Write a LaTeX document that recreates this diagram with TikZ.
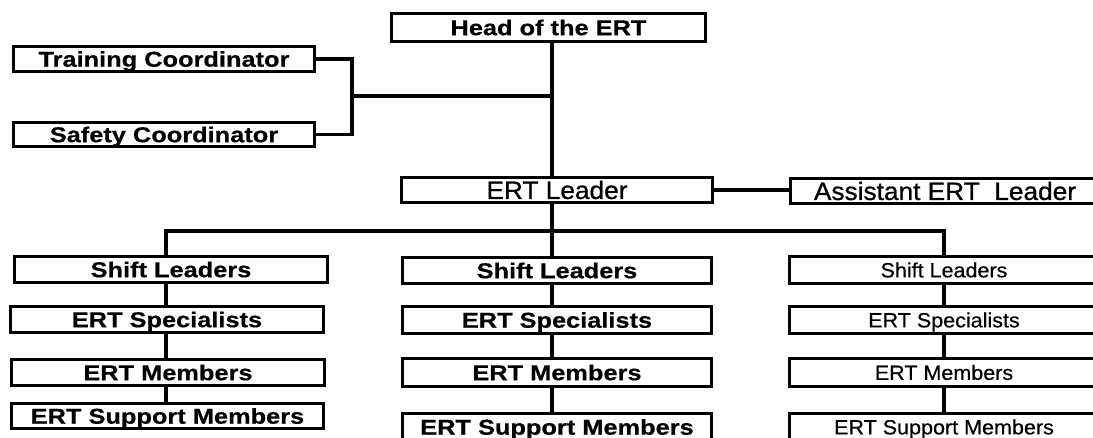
\documentclass[tikz,border=0pt]{standalone}
\usepackage{fontspec}
\newfontfamily\widefont[FakeStretch=1.18,BoldFeatures={FakeBold=0.5}]{Liberation Sans}
\newfontfamily\leadfont[FakeStretch=1.05,FakeBold=0.9]{Liberation Sans}
\newfontfamily\narrfont[FakeStretch=1.05,FakeBold=0.5]{Liberation Sans}
\begin{document}
\begin{tikzpicture}[x=1pt,y=-1pt,
  bx/.style={draw, line width=3.3pt, inner sep=0pt, align=center},
  bfb/.style={bx, font={\widefont\bfseries\fontsize{21.5}{25}\selectfont}, text height=15.4pt, text depth=0pt},
  ldr/.style={bx, font={\leadfont\fontsize{25}{30}\selectfont}, text height=17.9pt, text depth=0pt},
  thin/.style={bx, font={\narrfont\fontsize{20.5}{24}\selectfont}, text height=14.7pt, text depth=0pt},
  ln/.style={line width=3.3pt}]
\useasboundingbox (0,0) rectangle (1093,438);
\clip (0,0) rectangle (1093,438);
% top
\node[bfb, minimum width=314pt, minimum height=28pt] (head) at (548.5,27.5) {Head of the ERT};
\node[bfb, minimum width=301pt, minimum height=25pt] (train) at (164,59) {Training Coordinator};
\node[bfb, minimum width=301pt, minimum height=24pt] (safety) at (164,134.5) {Safety Coordinator};
\node[ldr, minimum width=311pt, minimum height=25pt] (leader) at (557,190) {ERT Leader};
\node[ldr, minimum width=309pt, minimum height=25pt] (assist) at (945,191) {Assistant ERT~ Leader};
% column 1
\node[bfb, minimum width=313pt, minimum height=26pt] (c1s) at (171,269.5) {Shift Leaders};
\node[bfb, minimum width=313pt, minimum height=26pt] (c1p) at (167,319.5) {ERT Specialists};
\node[bfb, minimum width=313pt, minimum height=26pt] (c1m) at (168,372.5) {ERT Members};
\node[bfb, minimum width=312pt, minimum height=25pt] (c1u) at (167.5,416) {ERT Support Members};
% column 2
\node[bfb, minimum width=309pt, minimum height=26pt] (c2s) at (557,270.5) {Shift Leaders};
\node[bfb, minimum width=309pt, minimum height=27pt] (c2p) at (557,320) {ERT Specialists};
\node[bfb, minimum width=309pt, minimum height=28pt] (c2m) at (557,372.5) {ERT Members};
\node[bfb, minimum width=309pt, minimum height=27pt] (c2u) at (557,427) {ERT Support Members};
% column 3
\node[thin, minimum width=309pt, minimum height=27pt] (c3s) at (944,270) {Shift Leaders};
\node[thin, minimum width=309pt, minimum height=27pt] (c3p) at (944,320) {ERT Specialists};
\node[thin, minimum width=309pt, minimum height=28pt] (c3m) at (944,372.5) {ERT Members};
\node[thin, minimum width=309pt, minimum height=27pt] (c3u) at (944,427) {ERT Support Members};
% junctions
\coordinate (sp) at (552,96);
\coordinate (brk) at (352,96);
\coordinate (bus) at (552,231);
\coordinate (b1) at (166,231);
\coordinate (b3) at (944,231);
% connectors
\draw[ln] (head.south -| sp) -- (leader.north -| sp);
\draw[ln] (train.east) -| (brk) |- (safety.east);
\draw[ln] (brk) -- (sp);
\draw[ln] (leader.east) -- (assist.west |- leader.east);
\draw[ln] (leader.south -| bus) -- (bus);
\draw[ln] (c1s.north -| b1) -- (b1) -- (b3) -- (c3s.north -| b3);
\draw[ln] (bus) -- (c2s.north -| bus);
\draw[ln] (c1s.south -| b1) -- (c1p.north -| b1);
\draw[ln] (c1p.south -| b1) -- (c1m.north -| b1);
\draw[ln] (c1m.south -| b1) -- (c1u.north -| b1);
\draw[ln] (c2s.south -| bus) -- (c2p.north -| bus);
\draw[ln] (c2p.south -| bus) -- (c2m.north -| bus);
\draw[ln] (c2m.south -| bus) -- (c2u.north -| bus);
\draw[ln] (c3s.south -| b3) -- (c3p.north -| b3);
\draw[ln] (c3p.south -| b3) -- (c3m.north -| b3);
\draw[ln] (c3m.south -| b3) -- (c3u.north -| b3);
\end{tikzpicture}
\end{document}
